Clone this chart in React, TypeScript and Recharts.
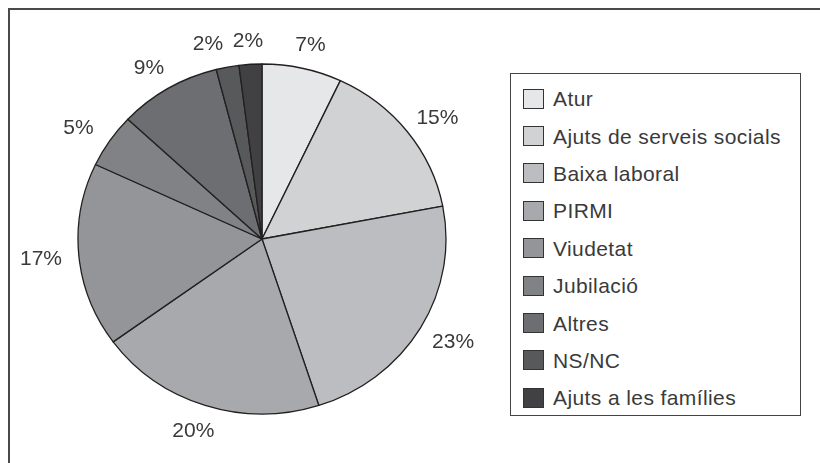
import { PieChart, Pie, Legend } from "recharts";

const categories = [
	"Atur",
	"Ajuts de serveis socials",
	"Baixa laboral",
	"PIRMI",
	"Viudetat",
	"Jubilació",
	"Altres",
	"NS/NC",
	"Ajuts a les famílies",
];
const percents = [7, 15, 23, 20, 17, 5, 9, 2, 2];
const greys = [
	"#e6e7e8",
	"#d1d2d4",
	"#bcbdc0",
	"#a7a9ac",
	"#939598",
	"#808285",
	"#6d6e71",
	"#58595b",
	"#414042",
];

const RAD = Math.PI / 180;
const SQUASH = 175 / 184; // the pie in the picture is slightly wider than tall
const FONT = "'Liberation Sans', Arial, sans-serif";
const TEXT = "#3a3a3a";
const LABEL_W = 40; // rough width of a "NN%" label, used to keep labels apart

const pieData = categories.map((name, i) => ({
	name,
	value: percents[i],
	fill: greys[i],
}));

// elliptical sector, same angles as recharts' own Sector
const OvalSector = (props: any) => {
	const { cx, cy, outerRadius, startAngle, endAngle, fill } = props;
	const rx = outerRadius;
	const ry = outerRadius * SQUASH;
	const x1 = cx + rx * Math.cos(startAngle * RAD);
	const y1 = cy - ry * Math.sin(startAngle * RAD);
	const x2 = cx + rx * Math.cos(endAngle * RAD);
	const y2 = cy - ry * Math.sin(endAngle * RAD);
	const large = Math.abs(startAngle - endAngle) > 180 ? 1 : 0;
	const sweep = startAngle > endAngle ? 1 : 0;
	const d = `M${cx},${cy} L${x1},${y1} A${rx},${ry} 0 ${large} ${sweep} ${x2},${y2} Z`;
	return <path d={d} fill={fill} stroke="#231f20" strokeWidth={1.3} strokeLinejoin="round" />;
};

const labelPoint = (cx: number, cy: number, r: number, mid: number) => ({
	x: cx + (r + 38) * Math.cos(mid * RAD),
	y: cy - (r * SQUASH + 25) * Math.sin(mid * RAD),
});

// push apart labels that would sit on top of each other (the small top slices)
const labelShift = (cx: number, cy: number, r: number, mids: number[]) => {
	const pts = mids.map((m) => labelPoint(cx, cy, r, m));
	const shift = pts.map(() => 0);
	for (let i = pts.length - 1; i > 0; i--) {
		const a = pts[i];
		const b = pts[i - 1];
		const ax = a.x + shift[i];
		const bx = b.x + shift[i - 1];
		if (Math.abs(a.y - b.y) < 22 && Math.abs(ax - bx) < LABEL_W) {
			if (ax < bx) shift[i] -= LABEL_W - (bx - ax);
			else shift[i - 1] -= LABEL_W - (ax - bx);
		}
	}
	return shift;
};

const makeLabel = () => {
	let shifts: number[] | null = null;
	return (props: any) => {
		const { cx, cy, midAngle, outerRadius, value, index } = props;
		if (!shifts) {
			const total = percents.reduce((s, v) => s + v, 0);
			let acc = 0;
			const mids = percents.map((v) => {
				const m = 90 - ((acc + v / 2) / total) * 360;
				acc += v;
				return m;
			});
			shifts = labelShift(cx, cy, outerRadius, mids);
		}
		const p = labelPoint(cx, cy, outerRadius, midAngle);
		return (
			<text
				key={`lbl-${index}`}
				x={p.x + (shifts[index] || 0)}
				y={p.y}
				textAnchor="middle"
				dominantBaseline="central"
				fill={TEXT}
				fontFamily={FONT}
				fontSize={21}
			>
				{value}%
			</text>
		);
	};
};

const renderLabel = makeLabel();

const LegendBox = (props: any) => {
	const items = [...(props.payload || [])].sort(
		(a: any, b: any) => categories.indexOf(a.value) - categories.indexOf(b.value)
	);
	return (
		<div
			style={{
				boxSizing: "border-box",
				width: 291,
				height: 343,
				border: "1.5px solid #444",
				paddingTop: 6,
				paddingLeft: 12,
				background: "#fff",
			}}
		>
			{items.map((entry: any) => (
				<div
					key={entry.value}
					style={{ display: "flex", alignItems: "center", height: 37.4 }}
				>
					<span
						style={{
							display: "inline-block",
							boxSizing: "border-box",
							width: 21,
							height: 20,
							background: entry.color,
							border: "1.5px solid #333",
							marginRight: 9,
						}}
					/>
					<span
						style={{
							fontFamily: FONT,
							fontSize: 21,
							letterSpacing: 0.4,
							color: TEXT,
							lineHeight: 1,
						}}
					>
						{entry.value}
					</span>
				</div>
			))}
		</div>
	);
};

export default function App() {
	return (
		<div
			style={{
				position: "fixed",
				left: 8,
				top: 8,
				width: 812,
				height: 455,
				borderTop: "2px solid #4a4a4a",
				borderLeft: "2px solid #4a4a4a",
				boxSizing: "border-box",
				overflow: "hidden",
			}}
		>
			<PieChart width={808} height={453} margin={{ top: 0, right: 0, bottom: 0, left: 0 }}>
				<Pie
					data={pieData}
					dataKey="value"
					nameKey="name"
					cx={252}
					cy={229}
					outerRadius={184}
					startAngle={90}
					endAngle={-270}
					shape={OvalSector}
					label={renderLabel}
					labelLine={false}
					isAnimationActive={false}
				/>
				<Legend
					layout="vertical"
					align="right"
					verticalAlign="top"
					content={LegendBox}
					wrapperStyle={{ left: 500, top: 63, width: 291, height: 343 }}
				/>
			</PieChart>
		</div>
	);
}
